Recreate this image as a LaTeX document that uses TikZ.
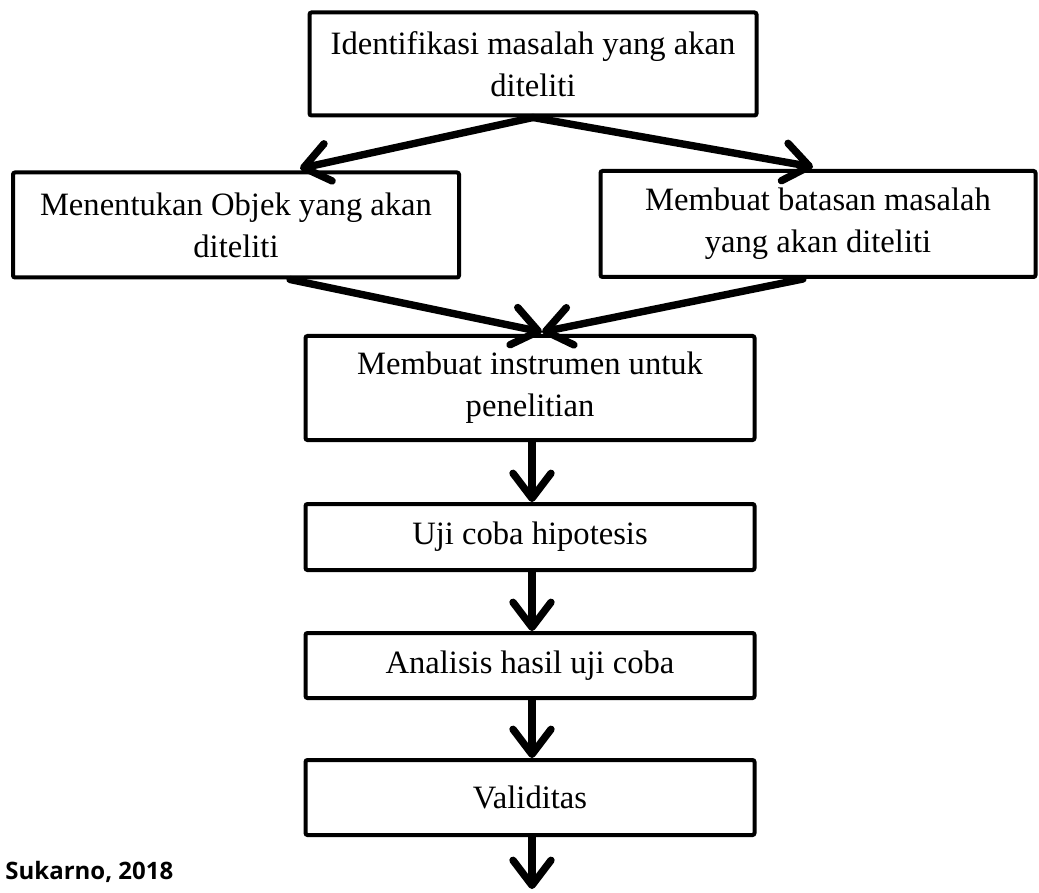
\documentclass[tikz,border=0pt]{standalone}
\usepackage{fontspec}
\setmainfont{Liberation Serif}
\newfontfamily\sumberfont{Open Sans}
\usetikzlibrary{arrows.meta}

\tikzset{
  kotak/.style={draw, line width=2pt, rounded corners=1pt, align=center, inner sep=0pt,
    font=\fontsize{16.3}{21}\selectfont},
  panah/.style={line width=3.7pt, line cap=round, -{Straight Barb[round, length=12.5pt, width=19pt]}}
}

\begin{document}
\begin{tikzpicture}[x=0.5pt, y=-0.5pt]
  \useasboundingbox (0,0) rectangle (1039,893);
  \node[kotak, minimum width=223.5pt, minimum height=51.5pt] (identifikasi) at (533,64) {Identifikasi masalah yang akan\\diteliti};
  \node[kotak, minimum width=223pt, minimum height=52.5pt] (objek) at (236,225) {Menentukan Objek yang akan\\diteliti};
  \node[kotak, minimum width=217.5pt, minimum height=53pt] (batasan) at (818,224) {Membuat batasan masalah\\yang akan diteliti};
  \node[kotak, minimum width=224.5pt, minimum height=52pt] (instrumen) at (530,388) {Membuat instrumen untuk\\penelitian};
  \node[kotak, minimum width=224.5pt, minimum height=33pt] (hipotesis) at (530,537) {Uji coba hipotesis};
  \node[kotak, minimum width=224.5pt, minimum height=32.5pt] (analisis) at (530,665.5) {Analisis hasil uji coba};
  \node[kotak, minimum width=224.5pt, minimum height=37.5pt] (validitas) at (530,797.5) {Validitas};
  \coordinate (akhir) at (532,889);
  \node[anchor=base west, inner sep=0pt, font=\sumberfont\bfseries\fontsize{12}{14}\selectfont] (sumber) at (5,879) {Sukarno, 2018};
  % cabang atas
  \draw[panah] (identifikasi.south) -- ([xshift=32pt, yshift=1pt]objek.north);
  \draw[panah] (identifikasi.south) -- ([xshift=-2.5pt, yshift=1pt]batasan.north);
  % gabung ke instrumen
  \draw[panah] ([xshift=27pt]objek.south) -- ([xshift=6pt, yshift=1pt]instrumen.north);
  \draw[panah] ([xshift=-7.5pt]batasan.south) -- ([xshift=6pt, yshift=1pt]instrumen.north);
  % alur bawah
  \draw[panah] ([xshift=1pt]instrumen.south) -- ([xshift=1pt]hipotesis.north);
  \draw[panah] ([xshift=1pt]hipotesis.south) -- ([xshift=1pt]analisis.north);
  \draw[panah] ([xshift=1pt]analisis.south) -- ([xshift=1pt]validitas.north);
  \draw[panah] ([xshift=1pt]validitas.south) -- (akhir);
\end{tikzpicture}
\end{document}
